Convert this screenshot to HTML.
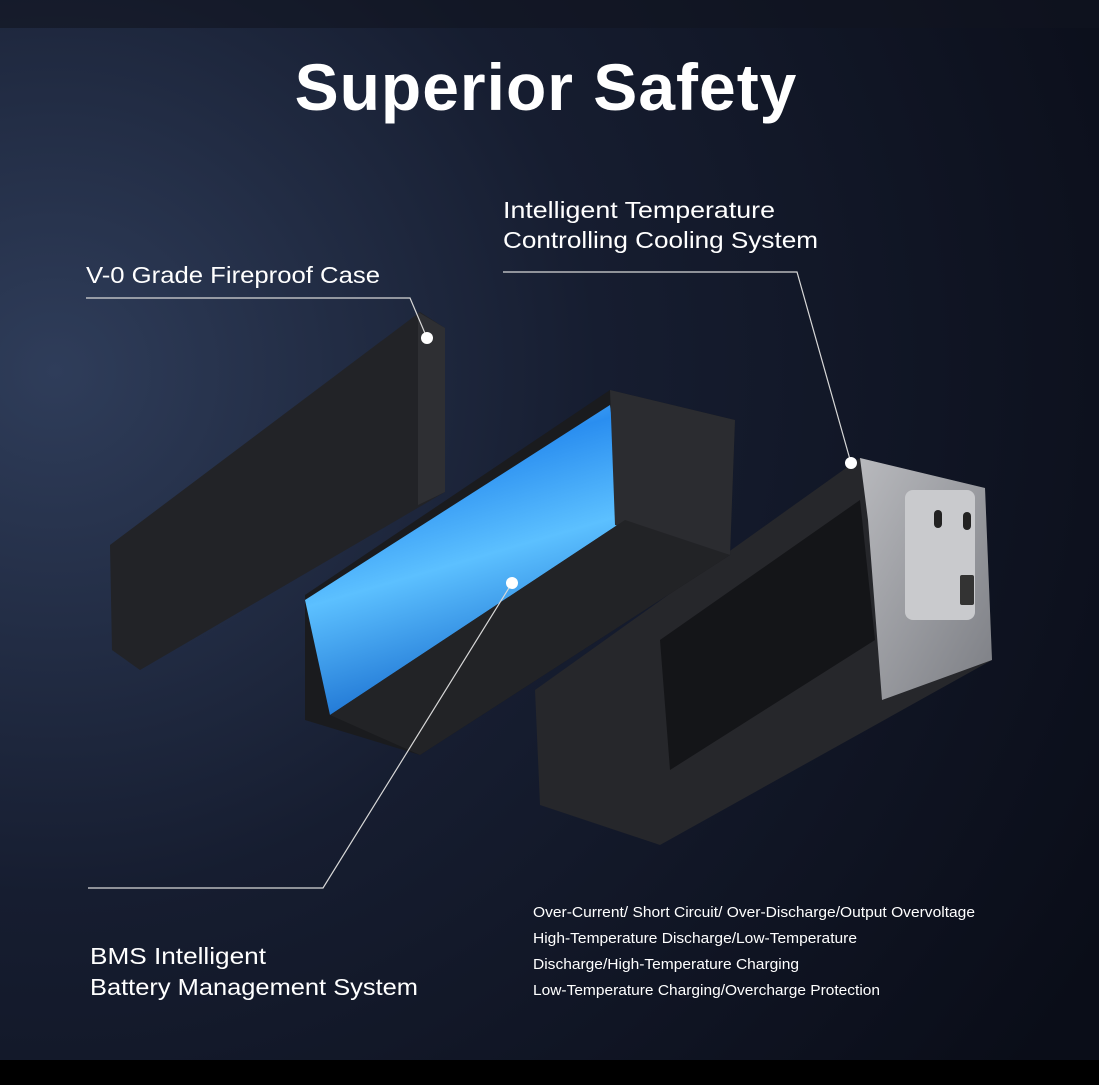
<!DOCTYPE html>
<html><head><meta charset="utf-8"><style>
html,body{margin:0;padding:0}
body{width:1099px;height:1080px;overflow:hidden;background:#000;font-family:"Liberation Sans",sans-serif}
</style></head><body>
<svg width="1099" height="1080" viewBox="0 0 1099 1080" xmlns="http://www.w3.org/2000/svg">
<defs>
<radialGradient id="bg" cx="0.05" cy="0.35" r="1.1">
<stop offset="0" stop-color="#2f3d5a"/><stop offset="0.45" stop-color="#161d30"/><stop offset="1" stop-color="#0a0d18"/>
</radialGradient>
<linearGradient id="blue" x1="0" y1="0" x2="0.3" y2="1">
<stop offset="0" stop-color="#7fd0ff"/><stop offset="0.3" stop-color="#2a8ef0"/><stop offset="0.6" stop-color="#5cc0ff"/><stop offset="1" stop-color="#1a6fd0"/>
</linearGradient>
<linearGradient id="silver" x1="0" y1="0" x2="1" y2="1">
<stop offset="0" stop-color="#b8b9bd"/><stop offset="1" stop-color="#7c7e84"/>
</linearGradient>
</defs>
<rect width="1099" height="1060" fill="url(#bg)"/>
<rect y="0" width="1099" height="28" fill="#10141f" opacity="0.6"/>
<rect y="1060" width="1099" height="20" fill="#000"/>
<text x="546" y="110" text-anchor="middle" fill="#fff" font-size="66" font-weight="bold" letter-spacing="1" font-family="Liberation Sans,sans-serif">Superior Safety</text>

<!-- left case -->
<polygon points="110,545 420,312 445,328 445,492 140,670 112,650" fill="#222327"/>
<polygon points="418,312 445,328 445,492 418,505" fill="#2e2f33"/>
<!-- right unit -->
<polygon points="535,690 860,458 985,488 992,660 660,845 540,805" fill="#26272b"/>
<polygon points="660,640 860,500 875,640 670,770" fill="#141518"/>
<polygon points="860,458 985,488 992,660 882,700 868,520" fill="url(#silver)"/>
<rect x="905" y="490" width="70" height="130" rx="8" fill="#c9cacd"/>
<rect x="934" y="510" width="8" height="18" rx="4" fill="#222"/>
<rect x="963" y="512" width="8" height="18" rx="4" fill="#222"/>
<rect x="960" y="575" width="14" height="30" rx="2" fill="#333"/>
<!-- middle pack -->
<polygon points="305,595 610,390 735,420 730,555 420,755 305,720" fill="#1a1b1e"/>
<polygon points="305,600 610,405 625,520 330,715" fill="url(#blue)"/>
<polygon points="610,390 735,420 730,555 615,525" fill="#2b2c30"/>
<polygon points="330,715 625,520 730,555 420,755" fill="#222326"/>

<!-- connectors -->
<g stroke="#d8d8d8" stroke-width="1.2" fill="none">
<polyline points="86,298 410,298 427,338"/>
<polyline points="503,272 797,272 851,463"/>
<polyline points="88,888 323,888 512,583"/>
</g>
<circle cx="427" cy="338" r="6" fill="#fff"/>
<circle cx="851" cy="463" r="6" fill="#fff"/>
<circle cx="512" cy="583" r="6" fill="#fff"/>

<g fill="#fff" font-family="Liberation Sans,sans-serif">
<text x="86" y="283" font-size="23" textLength="294" lengthAdjust="spacingAndGlyphs">V-0 Grade Fireproof Case</text>
<text x="503" y="218" font-size="23" textLength="272" lengthAdjust="spacingAndGlyphs">Intelligent Temperature</text>
<text x="503" y="248" font-size="23" textLength="315" lengthAdjust="spacingAndGlyphs">Controlling Cooling System</text>
<text x="90" y="964" font-size="23" textLength="176" lengthAdjust="spacingAndGlyphs">BMS Intelligent</text>
<text x="90" y="995" font-size="23" textLength="328" lengthAdjust="spacingAndGlyphs">Battery Management System</text>
<g font-size="14.5">
<text x="533" y="917" textLength="442" lengthAdjust="spacingAndGlyphs">Over-Current/ Short Circuit/ Over-Discharge/Output Overvoltage</text>
<text x="533" y="943" textLength="324" lengthAdjust="spacingAndGlyphs">High-Temperature Discharge/Low-Temperature</text>
<text x="533" y="969" textLength="266" lengthAdjust="spacingAndGlyphs">Discharge/High-Temperature Charging</text>
<text x="533" y="995" textLength="347" lengthAdjust="spacingAndGlyphs">Low-Temperature Charging/Overcharge Protection</text>
</g>
</g>
</svg>
</body></html>
